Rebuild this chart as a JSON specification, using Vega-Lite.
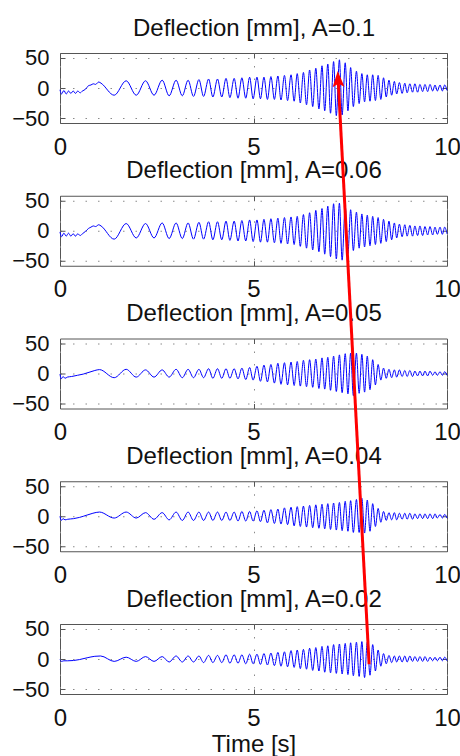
{
"$schema": "https://vega.github.io/schema/vega-lite/v6.json",
"autosize": {"type": "pad"},
"padding": {"left": 11, "top": 15, "right": 0, "bottom": 0},
"bounds": "flush",
"spacing": 72.75,
"datasets": {
"p1": [{"t":0,"y":-3},{"t":0.04,"y":-10},{"t":0.1,"y":-4},{"t":0.16,"y":-10},{"t":0.22,"y":-5},{"t":0.28,"y":-9},{"t":0.34,"y":-5},{"t":0.4,"y":-9},{"t":0.46,"y":-5},{"t":0.52,"y":-8},{"t":0.58,"y":-5},{"t":0.66,"y":-2},{"t":0.74,"y":4},{"t":0.8,"y":5},{"t":0.86,"y":7},{"t":0.92,"y":6},{"t":1,"y":10},{"t":1.06,"y":8},
{"t":1.4,"y":-12},{"t":1.71,"y":12},{"t":1.97,"y":-12},{"t":2.21,"y":12},{"t":2.43,"y":-12},{"t":2.64,"y":13},{"t":2.82,"y":-13},{"t":3,"y":13},{"t":3.16,"y":-13},{"t":3.31,"y":13},
{"t":3.45,"y":-14},{"t":3.59,"y":14},{"t":3.71,"y":-14},{"t":3.84,"y":15},{"t":3.95,"y":-15},{"t":4.07,"y":15},{"t":4.18,"y":-15},{"t":4.29,"y":16},{"t":4.39,"y":-16},{"t":4.5,"y":16},
{"t":4.6,"y":-17},{"t":4.7,"y":17},{"t":4.8,"y":-17},{"t":4.9,"y":18},{"t":4.99,"y":-18},{"t":5.09,"y":18},{"t":5.18,"y":-18},{"t":5.27,"y":18},{"t":5.36,"y":-19},{"t":5.45,"y":19},
{"t":5.54,"y":-19},{"t":5.63,"y":20},{"t":5.71,"y":-20},{"t":5.8,"y":21},{"t":5.88,"y":-21},{"t":5.97,"y":22},{"t":6.05,"y":-22},{"t":6.13,"y":24},{"t":6.21,"y":-25},{"t":6.29,"y":26},
{"t":6.37,"y":-28},{"t":6.45,"y":30},{"t":6.53,"y":-31},{"t":6.61,"y":33},{"t":6.69,"y":-35},{"t":6.77,"y":37},{"t":6.84,"y":-38},{"t":6.92,"y":40},{"t":6.99,"y":-42},{"t":7.07,"y":44},
{"t":7.14,"y":-46},{"t":7.22,"y":47},{"t":7.29,"y":-45},{"t":7.37,"y":42},{"t":7.44,"y":-38},{"t":7.51,"y":34},{"t":7.58,"y":-31},{"t":7.66,"y":28},{"t":7.73,"y":-26},{"t":7.8,"y":24},
{"t":7.87,"y":-23},{"t":7.94,"y":22},{"t":8.01,"y":-22},{"t":8.08,"y":22},{"t":8.15,"y":-21},{"t":8.22,"y":21},{"t":8.29,"y":-19},{"t":8.36,"y":17},{"t":8.43,"y":-15},{"t":8.5,"y":13},
{"t":8.57,"y":-12},{"t":8.64,"y":11},{"t":8.7,"y":-10},{"t":8.77,"y":9},{"t":8.84,"y":-9},{"t":8.91,"y":8},{"t":8.97,"y":-8},{"t":9.04,"y":7},{"t":9.11,"y":-7},{"t":9.17,"y":7},
{"t":9.24,"y":-7},{"t":9.3,"y":6},{"t":9.37,"y":-6},{"t":9.43,"y":6},{"t":9.5,"y":-6},{"t":9.56,"y":6},{"t":9.63,"y":-5},{"t":9.69,"y":5},{"t":9.75,"y":-5},{"t":9.82,"y":5},
{"t":9.88,"y":-5},{"t":9.94,"y":5},{"t":10,"y":-4}],
"p2": [{"t":0,"y":-2},{"t":0.04,"y":-10},{"t":0.1,"y":-4},{"t":0.16,"y":-9},{"t":0.22,"y":-4},{"t":0.28,"y":-9},{"t":0.34,"y":-5},{"t":0.4,"y":-9},{"t":0.46,"y":-5},{"t":0.52,"y":-8},{"t":0.58,"y":-5},{"t":0.66,"y":-1},{"t":0.74,"y":4},{"t":0.8,"y":6},{"t":0.86,"y":8},{"t":0.92,"y":7},{"t":1,"y":10},{"t":1.06,"y":8},
{"t":1.4,"y":-14},{"t":1.71,"y":12},{"t":1.97,"y":-12},{"t":2.21,"y":12},{"t":2.43,"y":-12},{"t":2.64,"y":13},{"t":2.82,"y":-13},{"t":3,"y":13},{"t":3.16,"y":-13},{"t":3.31,"y":13},
{"t":3.45,"y":-14},{"t":3.59,"y":14},{"t":3.71,"y":-14},{"t":3.84,"y":15},{"t":3.95,"y":-15},{"t":4.07,"y":15},{"t":4.18,"y":-15},{"t":4.29,"y":16},{"t":4.39,"y":-16},{"t":4.5,"y":16},
{"t":4.6,"y":-17},{"t":4.7,"y":17},{"t":4.8,"y":-17},{"t":4.9,"y":18},{"t":4.99,"y":-18},{"t":5.09,"y":18},{"t":5.18,"y":-19},{"t":5.27,"y":19},{"t":5.36,"y":-19},{"t":5.45,"y":20},
{"t":5.54,"y":-20},{"t":5.63,"y":21},{"t":5.71,"y":-21},{"t":5.8,"y":22},{"t":5.88,"y":-22},{"t":5.97,"y":23},{"t":6.05,"y":-23},{"t":6.13,"y":24},{"t":6.21,"y":-26},{"t":6.29,"y":27},
{"t":6.37,"y":-29},{"t":6.45,"y":30},{"t":6.53,"y":-32},{"t":6.61,"y":34},{"t":6.69,"y":-35},{"t":6.77,"y":37},{"t":6.84,"y":-39},{"t":6.92,"y":41},{"t":6.99,"y":-43},{"t":7.07,"y":45},
{"t":7.14,"y":-47},{"t":7.22,"y":46},{"t":7.29,"y":-49},{"t":7.37,"y":41},{"t":7.44,"y":-38},{"t":7.51,"y":35},{"t":7.58,"y":-33},{"t":7.66,"y":31},{"t":7.73,"y":-29},{"t":7.8,"y":28},
{"t":7.87,"y":-27},{"t":7.94,"y":26},{"t":8.01,"y":-25},{"t":8.08,"y":24},{"t":8.15,"y":-23},{"t":8.22,"y":22},{"t":8.29,"y":-21},{"t":8.36,"y":19},{"t":8.43,"y":-18},{"t":8.5,"y":16},
{"t":8.57,"y":-15},{"t":8.64,"y":13},{"t":8.7,"y":-12},{"t":8.77,"y":11},{"t":8.84,"y":-10},{"t":8.91,"y":10},{"t":8.97,"y":-9},{"t":9.04,"y":9},{"t":9.11,"y":-9},{"t":9.17,"y":8},
{"t":9.24,"y":-8},{"t":9.3,"y":8},{"t":9.37,"y":-8},{"t":9.43,"y":7},{"t":9.5,"y":-7},{"t":9.56,"y":7},{"t":9.63,"y":-7},{"t":9.69,"y":6},{"t":9.75,"y":-6},{"t":9.82,"y":6},
{"t":9.88,"y":-6},{"t":9.94,"y":6},{"t":10,"y":-5}],
"p3": [{"t":0,"y":-1},{"t":0.03,"y":-9},{"t":0.08,"y":-5},{"t":0.13,"y":-8},{"t":0.19,"y":-6},{"t":0.3,"y":-5},{"t":0.45,"y":-3},{"t":0.6,"y":-1},{"t":0.75,"y":2},{"t":0.9,"y":5},{"t":1.02,"y":6.5},
{"t":1.4,"y":-7},{"t":1.71,"y":7},{"t":1.97,"y":-6},{"t":2.21,"y":6},{"t":2.43,"y":-6},{"t":2.64,"y":6},{"t":2.82,"y":-6},{"t":3,"y":7},{"t":3.16,"y":-7},{"t":3.31,"y":7},
{"t":3.45,"y":-7},{"t":3.59,"y":7},{"t":3.71,"y":-7},{"t":3.84,"y":8},{"t":3.95,"y":-8},{"t":4.07,"y":8},{"t":4.18,"y":-8},{"t":4.29,"y":8},{"t":4.39,"y":-8},{"t":4.5,"y":8},
{"t":4.6,"y":-9},{"t":4.7,"y":9},{"t":4.8,"y":-10},{"t":4.9,"y":10},{"t":4.99,"y":-11},{"t":5.09,"y":12},{"t":5.18,"y":-13},{"t":5.27,"y":14},{"t":5.36,"y":-14},{"t":5.45,"y":15},
{"t":5.54,"y":-16},{"t":5.63,"y":17},{"t":5.71,"y":-18},{"t":5.8,"y":18},{"t":5.88,"y":-19},{"t":5.97,"y":19},{"t":6.05,"y":-20},{"t":6.13,"y":20},{"t":6.21,"y":-21},{"t":6.29,"y":22},
{"t":6.37,"y":-22},{"t":6.45,"y":23},{"t":6.53,"y":-23},{"t":6.61,"y":24},{"t":6.69,"y":-25},{"t":6.77,"y":26},{"t":6.84,"y":-26},{"t":6.92,"y":27},{"t":6.99,"y":-28},{"t":7.07,"y":29},
{"t":7.14,"y":-30},{"t":7.22,"y":31},{"t":7.29,"y":-32},{"t":7.37,"y":33},{"t":7.44,"y":-34},{"t":7.51,"y":34},{"t":7.58,"y":-37},{"t":7.66,"y":34},{"t":7.73,"y":-33},{"t":7.8,"y":32},
{"t":7.87,"y":-31},{"t":7.94,"y":29},{"t":8.01,"y":-27},{"t":8.08,"y":23},{"t":8.15,"y":-19},{"t":8.22,"y":15},{"t":8.29,"y":-11},{"t":8.36,"y":9},{"t":8.43,"y":-8},{"t":8.5,"y":7},
{"t":8.57,"y":-7},{"t":8.64,"y":6},{"t":8.7,"y":-6},{"t":8.77,"y":6},{"t":8.84,"y":-5},{"t":8.91,"y":5},{"t":8.97,"y":-5},{"t":9.04,"y":5},{"t":9.11,"y":-5},{"t":9.17,"y":4},
{"t":9.24,"y":-4},{"t":9.3,"y":4},{"t":9.37,"y":-4},{"t":9.43,"y":4},{"t":9.5,"y":-4},{"t":9.56,"y":4},{"t":9.63,"y":-3},{"t":9.69,"y":3},{"t":9.75,"y":-3},{"t":9.82,"y":3},
{"t":9.88,"y":-3},{"t":9.94,"y":3},{"t":10,"y":-3}],
"p4": [{"t":0,"y":0},{"t":0.03,"y":-7},{"t":0.08,"y":-4},{"t":0.13,"y":-6},{"t":0.2,"y":-5},{"t":0.35,"y":-4},{"t":0.5,"y":-2},{"t":0.7,"y":2},{"t":0.85,"y":5},{"t":1.02,"y":7},
{"t":1.4,"y":-3},{"t":1.71,"y":7},{"t":1.97,"y":-3},{"t":2.21,"y":6},{"t":2.43,"y":-5},{"t":2.64,"y":6},{"t":2.82,"y":-6},{"t":3,"y":7},{"t":3.16,"y":-7},{"t":3.31,"y":7},
{"t":3.45,"y":-7},{"t":3.59,"y":7},{"t":3.71,"y":-7},{"t":3.84,"y":7},{"t":3.95,"y":-7},{"t":4.07,"y":7},{"t":4.18,"y":-7},{"t":4.29,"y":7},{"t":4.39,"y":-7},{"t":4.5,"y":7},
{"t":4.6,"y":-8},{"t":4.7,"y":8},{"t":4.8,"y":-8},{"t":4.9,"y":8},{"t":4.99,"y":-8},{"t":5.09,"y":9},{"t":5.18,"y":-9},{"t":5.27,"y":10},{"t":5.36,"y":-11},{"t":5.45,"y":11},
{"t":5.54,"y":-12},{"t":5.63,"y":12},{"t":5.71,"y":-13},{"t":5.8,"y":14},{"t":5.88,"y":-14},{"t":5.97,"y":15},{"t":6.05,"y":-16},{"t":6.13,"y":16},{"t":6.21,"y":-17},{"t":6.29,"y":17},
{"t":6.37,"y":-18},{"t":6.45,"y":18},{"t":6.53,"y":-19},{"t":6.61,"y":19},{"t":6.69,"y":-20},{"t":6.77,"y":20},{"t":6.84,"y":-21},{"t":6.92,"y":21},{"t":6.99,"y":-22},{"t":7.07,"y":22},
{"t":7.14,"y":-23},{"t":7.22,"y":23},{"t":7.29,"y":-24},{"t":7.37,"y":25},{"t":7.44,"y":-25},{"t":7.51,"y":26},{"t":7.58,"y":-27},{"t":7.66,"y":28},{"t":7.73,"y":-27},{"t":7.8,"y":30},
{"t":7.87,"y":-28},{"t":7.94,"y":27},{"t":8.01,"y":-25},{"t":8.08,"y":21},{"t":8.15,"y":-17},{"t":8.22,"y":13},{"t":8.29,"y":-10},{"t":8.36,"y":8},{"t":8.43,"y":-7},{"t":8.5,"y":6},
{"t":8.57,"y":-6},{"t":8.64,"y":6},{"t":8.7,"y":-6},{"t":8.77,"y":5},{"t":8.84,"y":-5},{"t":8.91,"y":5},{"t":8.97,"y":-5},{"t":9.04,"y":5},{"t":9.11,"y":-5},{"t":9.17,"y":4},
{"t":9.24,"y":-4},{"t":9.3,"y":4},{"t":9.37,"y":-4},{"t":9.43,"y":4},{"t":9.5,"y":-4},{"t":9.56,"y":4},{"t":9.63,"y":-4},{"t":9.69,"y":4},{"t":9.75,"y":-3},{"t":9.82,"y":3},
{"t":9.88,"y":-3},{"t":9.94,"y":3},{"t":10,"y":-3}],
"p5": [{"t":0,"y":-1},{"t":0.04,"y":-4},{"t":0.1,"y":-3},{"t":0.2,"y":-3},{"t":0.35,"y":-2.5},{"t":0.5,"y":-1},{"t":0.7,"y":2},{"t":0.9,"y":4.5},{"t":1.05,"y":5},
{"t":1.4,"y":-4},{"t":1.71,"y":3},{"t":1.97,"y":-4},{"t":2.21,"y":4},{"t":2.43,"y":-4},{"t":2.64,"y":4},{"t":2.82,"y":-5},{"t":3,"y":5},{"t":3.16,"y":-5},{"t":3.31,"y":5},
{"t":3.45,"y":-5},{"t":3.59,"y":5},{"t":3.71,"y":-6},{"t":3.84,"y":6},{"t":3.95,"y":-6},{"t":4.07,"y":6},{"t":4.18,"y":-6},{"t":4.29,"y":7},{"t":4.39,"y":-7},{"t":4.5,"y":7},
{"t":4.6,"y":-7},{"t":4.7,"y":7},{"t":4.8,"y":-8},{"t":4.9,"y":8},{"t":4.99,"y":-8},{"t":5.09,"y":8},{"t":5.18,"y":-9},{"t":5.27,"y":9},{"t":5.36,"y":-10},{"t":5.45,"y":10},
{"t":5.54,"y":-11},{"t":5.63,"y":11},{"t":5.71,"y":-12},{"t":5.8,"y":12},{"t":5.88,"y":-13},{"t":5.97,"y":14},{"t":6.05,"y":-14},{"t":6.13,"y":15},{"t":6.21,"y":-16},{"t":6.29,"y":16},
{"t":6.37,"y":-17},{"t":6.45,"y":18},{"t":6.53,"y":-19},{"t":6.61,"y":19},{"t":6.69,"y":-20},{"t":6.77,"y":21},{"t":6.84,"y":-22},{"t":6.92,"y":22},{"t":6.99,"y":-23},{"t":7.07,"y":24},
{"t":7.14,"y":-24},{"t":7.22,"y":25},{"t":7.29,"y":-25},{"t":7.37,"y":26},{"t":7.44,"y":-26},{"t":7.51,"y":27},{"t":7.58,"y":-28},{"t":7.66,"y":28},{"t":7.73,"y":-29},{"t":7.8,"y":29},
{"t":7.87,"y":-31},{"t":7.94,"y":28},{"t":8.01,"y":-27},{"t":8.08,"y":24},{"t":8.15,"y":-20},{"t":8.22,"y":15},{"t":8.29,"y":-12},{"t":8.36,"y":9},{"t":8.43,"y":-8},{"t":8.5,"y":6},
{"t":8.57,"y":-6},{"t":8.64,"y":5},{"t":8.7,"y":-5},{"t":8.77,"y":5},{"t":8.84,"y":-5},{"t":8.91,"y":5},{"t":8.97,"y":-5},{"t":9.04,"y":5},{"t":9.11,"y":-4},{"t":9.17,"y":4},
{"t":9.24,"y":-4},{"t":9.3,"y":4},{"t":9.37,"y":-4},{"t":9.43,"y":4},{"t":9.5,"y":-4},{"t":9.56,"y":3},{"t":9.63,"y":-3},{"t":9.69,"y":3},{"t":9.75,"y":-3},{"t":9.82,"y":3},
{"t":9.88,"y":-3},{"t":9.94,"y":3},{"t":10,"y":-3}],
"arrow": [{"t":7.987,"y":-8.8,"t2":7.187,"y2":966}],
"head": [{"t":7.176,"y":979.5}]
},
"config": {
"font": "Liberation Sans",
"view": {"stroke": "#555555", "strokeWidth": 1},
"axis": {"domain": false, "grid": true, "gridColor": "#8a8a8a", "gridDash": [1.5, 11], "gridWidth": 1, "tickColor": "#555555", "tickSize": -5, "tickWidth": 1, "labelColor": "#111111", "labelFont": "Liberation Sans", "titleFont": "Liberation Sans", "titleColor": "#111111", "titleFontWeight": "normal", "titleFontSize": 24, "labelOverlap": false}
},
"vconcat": [
{"width": 387, "height": 70, "data": {"name": "p1"},
 "layer": [
  {"mark": {"type": "line", "interpolate": "monotone", "color": "#0000ff", "strokeWidth": 1},
   "encoding": {
    "x": {"field": "t", "type": "quantitative", "scale": {"domain": [0, 10], "nice": false}, "axis": {"orient": "bottom", "values": [0, 5, 10], "labelFlush": false, "labelFontSize": 24, "labelPadding": 17, "title": null}},
    "y": {"field": "y", "type": "quantitative", "scale": {"domain": [-58.3, 58.3], "nice": false, "zero": false}, "axis": {"orient": "left", "values": [-50, 0, 50], "labelFontSize": 22, "labelPadding": 16, "title": null}}}},
  {"mark": {"type": "line", "strokeOpacity": 0},
   "encoding": {
    "x": {"field": "t", "type": "quantitative", "axis": {"orient": "top", "values": [0, 5, 10], "labels": false, "grid": false, "title": "Deflection [mm], A=0.1", "titleBaseline": "alphabetic", "titleY": -18}},
    "y": {"field": "y", "type": "quantitative", "axis": {"orient": "right", "values": [-50, 0, 50], "labels": false, "grid": false, "title": null}}}}
 ],
 "resolve": {"axis": {"x": "independent", "y": "independent"}}},
{"width": 387, "height": 70, "data": {"name": "p2"},
 "layer": [
  {"mark": {"type": "line", "interpolate": "monotone", "color": "#0000ff", "strokeWidth": 1},
   "encoding": {
    "x": {"field": "t", "type": "quantitative", "scale": {"domain": [0, 10], "nice": false}, "axis": {"orient": "bottom", "values": [0, 5, 10], "labelFlush": false, "labelFontSize": 24, "labelPadding": 17, "title": null}},
    "y": {"field": "y", "type": "quantitative", "scale": {"domain": [-58.3, 58.3], "nice": false, "zero": false}, "axis": {"orient": "left", "values": [-50, 0, 50], "labelFontSize": 22, "labelPadding": 16, "title": null}}}},
  {"mark": {"type": "line", "strokeOpacity": 0},
   "encoding": {
    "x": {"field": "t", "type": "quantitative", "axis": {"orient": "top", "values": [0, 5, 10], "labels": false, "grid": false, "title": "Deflection [mm], A=0.06", "titleBaseline": "alphabetic", "titleY": -18}},
    "y": {"field": "y", "type": "quantitative", "axis": {"orient": "right", "values": [-50, 0, 50], "labels": false, "grid": false, "title": null}}}}
 ],
 "resolve": {"axis": {"x": "independent", "y": "independent"}}},
{"width": 387, "height": 70, "data": {"name": "p3"},
 "layer": [
  {"mark": {"type": "line", "interpolate": "monotone", "color": "#0000ff", "strokeWidth": 1},
   "encoding": {
    "x": {"field": "t", "type": "quantitative", "scale": {"domain": [0, 10], "nice": false}, "axis": {"orient": "bottom", "values": [0, 5, 10], "labelFlush": false, "labelFontSize": 24, "labelPadding": 17, "title": null}},
    "y": {"field": "y", "type": "quantitative", "scale": {"domain": [-58.3, 58.3], "nice": false, "zero": false}, "axis": {"orient": "left", "values": [-50, 0, 50], "labelFontSize": 22, "labelPadding": 16, "title": null}}}},
  {"mark": {"type": "line", "strokeOpacity": 0},
   "encoding": {
    "x": {"field": "t", "type": "quantitative", "axis": {"orient": "top", "values": [0, 5, 10], "labels": false, "grid": false, "title": "Deflection [mm], A=0.05", "titleBaseline": "alphabetic", "titleY": -18}},
    "y": {"field": "y", "type": "quantitative", "axis": {"orient": "right", "values": [-50, 0, 50], "labels": false, "grid": false, "title": null}}}}
 ],
 "resolve": {"axis": {"x": "independent", "y": "independent"}}},
{"width": 387, "height": 70, "data": {"name": "p4"},
 "layer": [
  {"mark": {"type": "line", "interpolate": "monotone", "color": "#0000ff", "strokeWidth": 1},
   "encoding": {
    "x": {"field": "t", "type": "quantitative", "scale": {"domain": [0, 10], "nice": false}, "axis": {"orient": "bottom", "values": [0, 5, 10], "labelFlush": false, "labelFontSize": 24, "labelPadding": 17, "title": null}},
    "y": {"field": "y", "type": "quantitative", "scale": {"domain": [-58.3, 58.3], "nice": false, "zero": false}, "axis": {"orient": "left", "values": [-50, 0, 50], "labelFontSize": 22, "labelPadding": 16, "title": null}}}},
  {"mark": {"type": "line", "strokeOpacity": 0},
   "encoding": {
    "x": {"field": "t", "type": "quantitative", "axis": {"orient": "top", "values": [0, 5, 10], "labels": false, "grid": false, "title": "Deflection [mm], A=0.04", "titleBaseline": "alphabetic", "titleY": -18}},
    "y": {"field": "y", "type": "quantitative", "axis": {"orient": "right", "values": [-50, 0, 50], "labels": false, "grid": false, "title": null}}}}
 ],
 "resolve": {"axis": {"x": "independent", "y": "independent"}}},
{"width": 387, "height": 70, "data": {"name": "p5"},
 "layer": [
  {"mark": {"type": "line", "interpolate": "monotone", "color": "#0000ff", "strokeWidth": 1},
   "encoding": {
    "x": {"field": "t", "type": "quantitative", "scale": {"domain": [0, 10], "nice": false}, "axis": {"orient": "bottom", "values": [0, 5, 10], "labelFlush": false, "labelFontSize": 24, "labelPadding": 17, "title": "Time [s]", "titleBaseline": "alphabetic", "titleY": 57}},
    "y": {"field": "y", "type": "quantitative", "scale": {"domain": [-58.3, 58.3], "nice": false, "zero": false}, "axis": {"orient": "left", "values": [-50, 0, 50], "labelFontSize": 22, "labelPadding": 16, "title": null}}}},
  {"mark": {"type": "line", "strokeOpacity": 0},
   "encoding": {
    "x": {"field": "t", "type": "quantitative", "axis": {"orient": "top", "values": [0, 5, 10], "labels": false, "grid": false, "title": "Deflection [mm], A=0.02", "titleBaseline": "alphabetic", "titleY": -18}},
    "y": {"field": "y", "type": "quantitative", "axis": {"orient": "right", "values": [-50, 0, 50], "labels": false, "grid": false, "title": null}}}},
  {"data": {"name": "arrow"},
   "mark": {"type": "rule", "color": "#ff0000", "strokeWidth": 3},
   "encoding": {
    "x": {"field": "t", "type": "quantitative", "axis": null},
    "y": {"field": "y", "type": "quantitative", "axis": null},
    "x2": {"field": "t2"},
    "y2": {"field": "y2"}}},
  {"data": {"name": "head"},
   "mark": {"type": "point", "shape": "M0,0L0.37,1L0,0.8L-0.37,1Z", "size": 1024, "filled": true, "color": "#ff0000", "opacity": 1, "angle": -3, "strokeWidth": 0},
   "encoding": {
    "x": {"field": "t", "type": "quantitative", "axis": null},
    "y": {"field": "y", "type": "quantitative", "axis": null}}}
 ],
 "resolve": {"axis": {"x": "independent", "y": "independent"}}}
]
}
